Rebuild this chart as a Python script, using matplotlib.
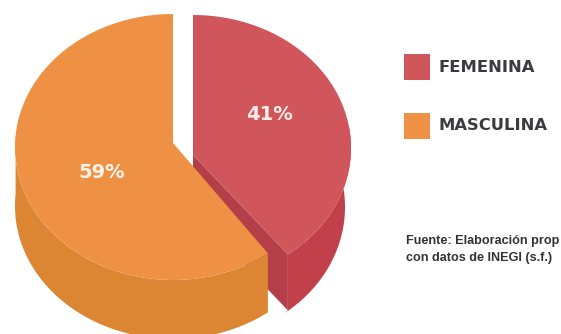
import numpy as np
import matplotlib.pyplot as plt
from matplotlib.patches import Polygon, Rectangle

# data
categories = ['FEMENINA', 'MASCULINA']
shares = [41, 59]
# the original image is cropped after "prop", only the visible part is kept
source_lines = ['Fuente: Elaboración prop', 'con datos de INEGI (s.f.)']

colors_top = ['#D0565C', '#EE9145']
colors_side = ['#C1404A', '#DC8533']
color_cut = '#B53F48'

W, H = 561, 334
RX, RY = 158, 133
DEPTH = 59
# the drawing was tilted by hand, the cut lands a bit before the true angle
TILT = 4.5


def arc(cx, cy, a0, a1, rx=RX, ry=RY, n=120):
    """Points on an ellipse, angle in degrees clockwise from the top"""
    t = np.radians(np.linspace(a0, a1, n))
    return np.column_stack([cx + rx * np.sin(t), cy - ry * np.cos(t)])


fig = plt.figure(figsize=(W / 100, H / 100), dpi=100)
ax = fig.add_axes([0, 0, 1, 1])
ax.set_xlim(0, W)
ax.set_ylim(H, 0)
ax.axis('off')

cut = 360 * shares[0] / 100 - TILT

# red slice, shifted right from the orange one
red_x, red_y, red_apex = 193, 148, 155
red_depth = 56
red_rim = arc(red_x, red_y, 0, cut)
tip = red_rim[-1]
low_rim = arc(red_x, red_y + DEPTH, 80, cut, rx=152)
ax.add_patch(Polygon(np.vstack([arc(red_x, red_y, 80, cut), [(tip[0], tip[1] + red_depth)], low_rim[::-1]]),
                     fc=colors_side[0], ec='none'))
ax.add_patch(Polygon([(red_x, red_apex), tip, (tip[0], tip[1] + red_depth),
                      (red_x, red_apex + red_depth)], fc=color_cut, ec='none'))
ax.add_patch(Polygon(np.vstack([[(red_x, red_apex)], red_rim]),
                     fc=colors_top[0], ec='none'))

# orange slice
or_x, or_y, or_apex = 173, 147, 143
or_rim = arc(or_x, or_y, cut, 360)
or_side = arc(or_x, or_y, cut, 275)
ax.add_patch(Polygon(np.vstack([or_side, (or_side + [0, DEPTH])[::-1]]),
                     fc=colors_side[1], ec='none'))
ax.add_patch(Polygon(np.vstack([[(or_x, or_apex)], or_rim]),
                     fc=colors_top[1], ec='none'))

# percentages
label_font = ['DejaVu Sans']
ax.text(269, 115, f'{shares[0]}%', color='#FBEDE6', fontsize=14, fontweight='bold',
        family=label_font, ha='center', va='center')
ax.text(102, 172, f'{shares[1]}%', color='#FDF3E8', fontsize=14, fontweight='bold',
        family=label_font, ha='center', va='center')

# legend
for name, col, y in zip(categories, colors_top, [54, 113]):
    ax.add_patch(Rectangle((404, y), 26, 26, fc=col, ec='none'))
    ax.text(439, y + 13, name, color='#3B3B3F', fontsize=11.8, fontweight='bold',
            family=label_font, ha='left', va='center')

# source note
for line, y in zip(source_lines, [241, 258]):
    ax.text(406, y, line, color='#333333', fontsize=9.1, fontweight='bold',
            family=['Liberation Sans', 'DejaVu Sans'], ha='left', va='center')

fig.savefig('out.png', dpi=100, facecolor='white')
